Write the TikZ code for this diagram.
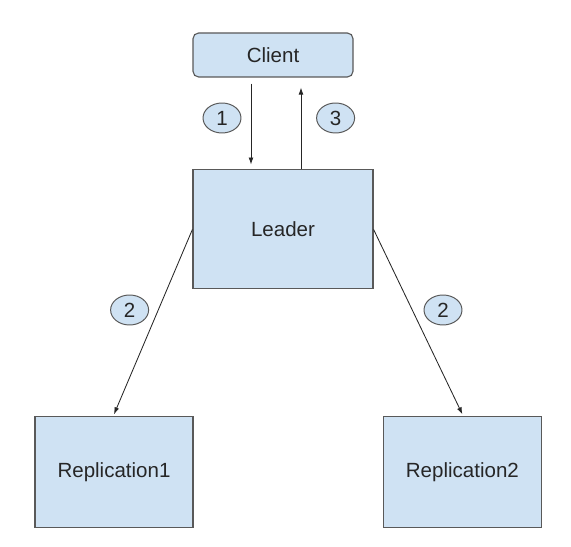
\documentclass[tikz,border=0pt]{standalone}
\usepackage{fontspec}
\setmainfont{Liberation Sans}
\usetikzlibrary{arrows.meta,shapes.geometric}
\definecolor{boxfill}{HTML}{CFE2F3}
\definecolor{boxline}{HTML}{595959}

\begin{document}
\begin{tikzpicture}[
    box/.style={draw=boxline, fill=boxfill, line width=0.8pt, inner sep=0pt,
        font=\fontsize{14.6}{17}\selectfont, text=black!85},
    num/.style={ellipse, draw=boxline, fill=boxfill, line width=0.7pt, inner sep=0pt,
        minimum width=0.95cm, minimum height=0.75cm,
        font=\fontsize{14.6}{17}\selectfont, text=black!85},
    link/.style={-{Latex[length=5pt,width=3.5pt]}, line width=0.6pt, black!85}
    ]
        \useasboundingbox (0,0) rectangle (14.275,13.675);

        \node[box, rounded corners=4pt, minimum width=4cm, minimum height=1.1cm] (client) at (6.825,12.3) {Client};
        \node[box, minimum width=4.5cm, minimum height=2.975cm] (leader) at (7.075,7.94) {Leader};
        \node[box, minimum width=3.95cm, minimum height=2.775cm] (rep1) at (2.85,1.865) {Replication1};
        \node[box, minimum width=3.95cm, minimum height=2.775cm] (rep2) at (11.56,1.865) {Replication2};

        \node[num] (n1) at (5.55,10.725) {1};
        \node[num] (n3) at (8.39,10.725) {3};
        \node[num] (n2a) at (3.24,5.925) {2};
        \node[num] (n2b) at (11.075,5.925) {2};

        \draw[link] ([xshift=-0.55cm, yshift=-0.15cm]client.south) -- ([xshift=-0.8cm, yshift=0.12cm]leader.north);
        \draw[link] ([xshift=0.45cm]leader.north) -- ([xshift=0.7cm, yshift=-0.25cm]client.south);
        \draw[link] (leader.west) -- ([yshift=0.05cm]rep1.north);
        \draw[link] (leader.east) -- ([yshift=0.05cm]rep2.north);
    \end{tikzpicture}
\end{document}
